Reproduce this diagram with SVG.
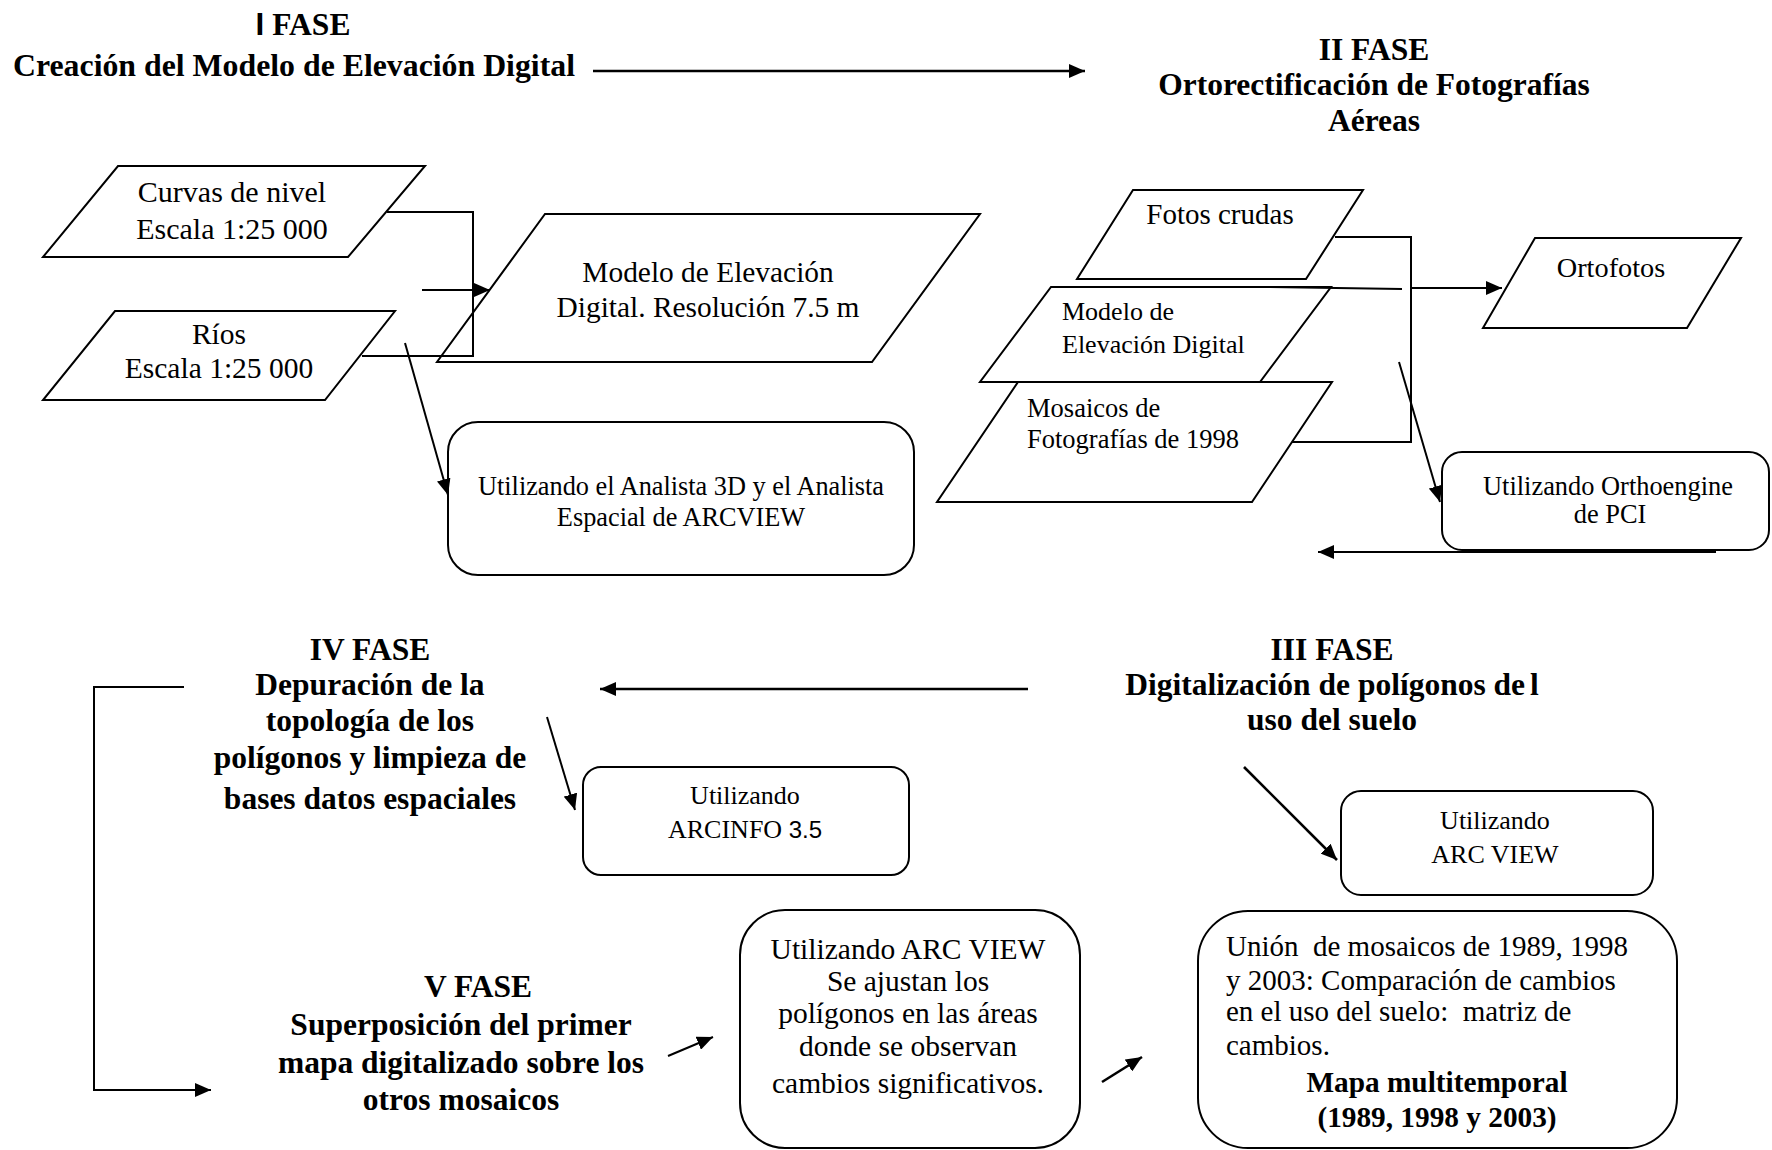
<svg xmlns="http://www.w3.org/2000/svg" width="1772" height="1150" viewBox="0 0 1772 1150">
<style>
  .bg{fill:#ffffff}
  .shape{fill:#ffffff;stroke:#000;stroke-width:2}
  .t{font-family:"Liberation Serif","Times New Roman",serif;fill:#000}
  .h{font-family:"Liberation Serif","Times New Roman",serif;font-weight:bold;font-size:31.5px;fill:#000}
  .c{text-anchor:middle}
  .ln{fill:none;stroke:#000;stroke-width:2}
  .thick{stroke-width:2.6}
</style>
<defs>
  <marker id="ah" viewBox="0 0 16 14" refX="16" refY="7" markerWidth="16" markerHeight="14" markerUnits="userSpaceOnUse" orient="auto">
    <path d="M0,0 L16,7 L0,14 z" fill="#000"/>
  </marker>
</defs>
<rect class="bg" x="0" y="0" width="1772" height="1150"/>

<g id="fase1-title">
  <text class="h c" x="303" y="35"><tspan font-family="Liberation Sans, Arial, sans-serif">I</tspan> FASE</text>
  <text class="h c" x="294" y="76" style="font-size:31.8px">Creación del Modelo de Elevación Digital</text>
</g>

<g id="fase2-title">
  <text class="h c" x="1374" y="60">II FASE</text>
  <text class="h c" x="1374" y="95">Ortorectificación de Fotografías</text>
  <text class="h c" x="1374" y="131">Aéreas</text>
</g>

<g id="curvas">
  <polygon class="shape" points="118,166 425,166 348,257 43,257"/>
  <text class="t c" x="232" y="202" font-size="30">Curvas de nivel</text>
  <text class="t c" x="232" y="239" font-size="30">Escala 1:25 000</text>
</g>

<g id="rios">
  <polygon class="shape" points="115,311 395,311 325,400 43,400"/>
  <text class="t c" x="219" y="344" font-size="29.5">Ríos</text>
  <text class="t c" x="219" y="378" font-size="29.5">Escala 1:25 000</text>
</g>

<g id="modelo">
  <polygon class="shape" points="545,214 980,214 872,362 437,362"/>
  <text class="t c" x="708" y="282" font-size="29.4">Modelo de Elevación</text>
  <text class="t c" x="708" y="317" font-size="29.4">Digital. Resolución 7.5 m</text>
</g>

<g id="arcview-analista">
  <rect class="shape" x="448" y="422" width="466" height="153" rx="30" ry="30"/>
  <text class="t c" x="681" y="495" font-size="26.3">Utilizando el Analista 3D y el Analista</text>
  <text class="t c" x="681" y="526" font-size="26.3">Espacial de ARCVIEW</text>
</g>

<g id="fotos-crudas">
  <polygon class="shape" points="1133,190 1363,190 1306,279 1077,279"/>
  <text class="t c" x="1220" y="224" font-size="29">Fotos crudas</text>
</g>

<g id="modelo2">
  <polygon class="shape" points="1051,287 1331,287 1260,382 980,382"/>
  <text class="t" x="1062" y="320" font-size="26">Modelo de</text>
  <text class="t" x="1062" y="353" font-size="26">Elevación Digital</text>
</g>

<g id="mosaicos">
  <polygon class="shape" points="1018,382 1332,382 1252,502 937,502"/>
  <text class="t" x="1027" y="417" font-size="26.5">Mosaicos de</text>
  <text class="t" x="1027" y="448" font-size="26.5">Fotografías de 1998</text>
</g>

<g id="ortofotos">
  <polygon class="shape" points="1535,238 1741,238 1687,328 1483,328"/>
  <text class="t c" x="1611" y="277" font-size="28.3">Ortofotos</text>
</g>

<g id="orthoengine">
  <rect class="shape" x="1442" y="452" width="327" height="98" rx="20" ry="20"/>
  <text class="t c" x="1608" y="495" font-size="26.4">Utilizando Orthoengine</text>
  <text class="t c" x="1610" y="523" font-size="26.4">de PCI</text>
</g>

<g id="fase4-title">
  <text class="h c" x="370" y="660">IV FASE</text>
  <text class="h c" x="370" y="695">Depuración de la</text>
  <text class="h c" x="370" y="731">topología de los</text>
  <text class="h c" x="370" y="768">polígonos y limpieza de</text>
  <text class="h c" x="370" y="809">bases datos espaciales</text>
</g>

<g id="arcinfo">
  <rect class="shape" x="583" y="767" width="326" height="108" rx="18" ry="18"/>
  <text class="t c" x="745" y="804" font-size="26">Utilizando</text>
  <text class="t c" x="745" y="838" font-size="26">ARCINFO <tspan font-family="Liberation Sans, Arial, sans-serif" font-size="24">3.5</tspan></text>
</g>

<g id="fase3-title">
  <text class="h c" x="1332" y="660">III FASE</text>
  <text class="h c" x="1332" y="695">Digitalización de polígonos de<tspan dx="5">l</tspan></text>
  <text class="h c" x="1332" y="730">uso del suelo</text>
</g>

<g id="arcview-3">
  <rect class="shape" x="1341" y="791" width="312" height="104" rx="20" ry="20"/>
  <text class="t c" x="1495" y="829" font-size="26">Utilizando</text>
  <text class="t c" x="1495" y="863" font-size="26">ARC VIEW</text>
</g>

<g id="fase5-title">
  <text class="h c" x="478" y="997">V FASE</text>
  <text class="h c" x="461" y="1035">Superposición del primer</text>
  <text class="h c" x="461" y="1073">mapa digitalizado sobre los</text>
  <text class="h c" x="461" y="1110">otros mosaicos</text>
</g>

<g id="arcview-ajuste">
  <rect class="shape" x="740" y="910" width="340" height="238" rx="45" ry="45"/>
  <text class="t c" x="908" y="959" font-size="29.5">Utilizando ARC VIEW</text>
  <text class="t c" x="908" y="991" font-size="29.5">Se ajustan los</text>
  <text class="t c" x="908" y="1023" font-size="29.5">polígonos en las áreas</text>
  <text class="t c" x="908" y="1056" font-size="29.5">donde se observan</text>
  <text class="t c" x="908" y="1093" font-size="29.5">cambios significativos.</text>
</g>

<g id="union">
  <rect class="shape" x="1198" y="911" width="479" height="237" rx="50" ry="50"/>
  <text class="t" x="1226" y="956" font-size="29" xml:space="preserve">Unión  de mosaicos de 1989, 1998</text>
  <text class="t" x="1226" y="990" font-size="29">y 2003: Comparación de cambios</text>
  <text class="t" x="1226" y="1021" font-size="29" xml:space="preserve">en el uso del suelo:  matriz de</text>
  <text class="t" x="1226" y="1055" font-size="29">cambios.</text>
  <text class="h c" x="1437" y="1092" style="font-size:29.3px">Mapa multitemporal</text>
  <text class="h c" x="1437" y="1127" style="font-size:29.3px">(1989, 1998 y 2003)</text>
</g>

<g id="connectors">
  <line class="ln thick" x1="593" y1="71" x2="1085" y2="71" marker-end="url(#ah)"/>
  <polyline class="ln" points="387,212 473,212 473,356 362,356"/>
  <line class="ln" x1="422" y1="290" x2="490" y2="290" marker-end="url(#ah)"/>
  <line class="ln" x1="405" y1="343" x2="448" y2="495" marker-end="url(#ah)"/>
  <polyline class="ln" points="1335,237 1411,237 1411,442 1292,442"/>
  <line class="ln" x1="1270" y1="287" x2="1402" y2="289"/>
  <line class="ln" x1="1412" y1="288" x2="1502" y2="288" marker-end="url(#ah)"/>
  <line class="ln" x1="1399" y1="362" x2="1440" y2="502" marker-end="url(#ah)"/>
  <line class="ln" x1="1716" y1="552" x2="1318" y2="552" marker-end="url(#ah)"/>
  <line class="ln thick" x1="1028" y1="689" x2="600" y2="689" marker-end="url(#ah)"/>
  <line class="ln" x1="547" y1="717" x2="575" y2="810" marker-end="url(#ah)"/>
  <line class="ln thick" x1="1244" y1="767" x2="1337" y2="860" marker-end="url(#ah)"/>
  <polyline class="ln" points="184,687 94,687 94,1090 211,1090" marker-end="url(#ah)"/>
  <line class="ln" x1="668" y1="1056" x2="713" y2="1037" marker-end="url(#ah)"/>
  <line class="ln thick" x1="1102" y1="1082" x2="1142" y2="1057" marker-end="url(#ah)"/>
</g>
</svg>
